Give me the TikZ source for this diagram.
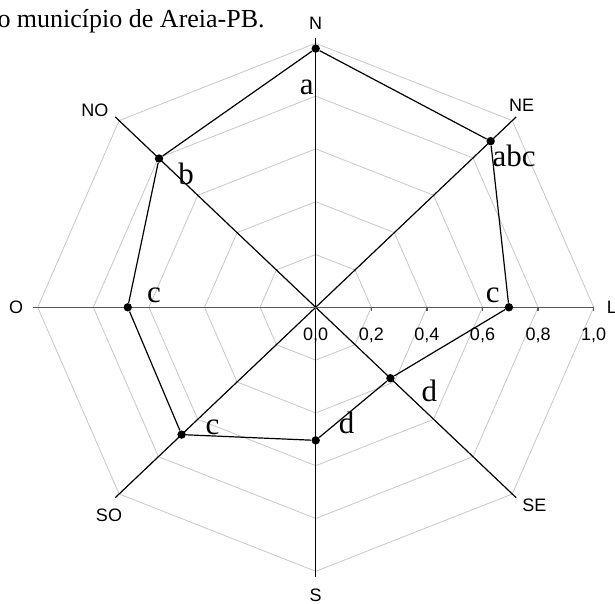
\documentclass[tikz,border=0pt]{standalone}
\usepackage{fontspec}
\setmainfont{Liberation Serif}
\setsansfont{Liberation Sans}

\begin{document}
\begin{tikzpicture}[x=4.885cm,y=4.639cm,
    gridline/.style={draw=black!22,line width=0.4pt},
    axis/.style={draw=black,line width=0.6pt},
    haxis/.style={draw=black!65,line width=0.7pt},
    dir/.style={inner sep=0pt,font=\fontsize{9}{10}\selectfont\sffamily},
    ticklbl/.style={anchor=base,inner sep=0pt,font=\fontsize{9}{10}\selectfont\sffamily},
    dot/.style={circle,fill=black,inner sep=0pt,minimum size=4.2pt},
    serie/.style={draw=black,line width=0.6pt},
    grp/.style={anchor=base,inner sep=0pt,font=\fontsize{15.5}{17}\selectfont}
  ]
    % Frame
    \useasboundingbox (-1.1356,-1.1201) rectangle (1.0766,1.1640);

    % Grid rings
    \foreach \r in {0.2,0.4,0.6,0.8,1.0}
      \draw[gridline] (0:\r) -- (45:\r) -- (90:\r) -- (135:\r) -- (180:\r) -- (225:\r) -- (270:\r) -- (315:\r) -- cycle;

    % Axes
    \coordinate (ctr) at (0,0);
    \foreach \a/\n in {90/N,45/NE,315/SE,270/S,225/SO,135/NO}
      \coordinate (e\n) at (\a:1.02);
    \coordinate (eO) at (180:1.018);
    \coordinate (eL) at (0:1);
    \foreach \n in {N,NE,SE,S,SO,NO}
      \draw[axis] (ctr) -- (e\n);
    \draw[haxis] (eO) -- (eL);

    % Ticks on the L axis
    \foreach \v/\a/\b in {0/0/0,0.2/0/2,0.4/0/4,0.6/0/6,0.8/0/8,1/1/0} {
      \draw[haxis] (\v,0) -- (\v,-0.015);
      \node[ticklbl] (t\a\b) at (\v,-0.124) {\a,\b};
    }

    % Direction labels
    \node[dir] (lN) at (0,1.076) {N};
    \node[dir] (lNE) at (0.741,0.766) {NE};
    \node[dir,anchor=west] (lL) at (1.046,0) {L};
    \node[dir] (lSE) at (0.787,-0.7515) {SE};
    \node[dir] (lS) at (0,-1.09) {S};
    \node[dir] (lSO) at (-0.7435,-0.789) {SO};
    \node[dir] (lO) at (-1.078,0) {O};
    \node[dir] (lNO) at (-0.794,0.745) {NO};

    % Data
    \foreach \a/\r/\n in {90/0.98/N,45/0.89/NE,0/0.695/L,315/0.38/SE,270/0.504/S,225/0.682/SO,180/0.676/O,135/0.797/NO}
      \node[dot] (p\n) at (\a:\r) {};
    \draw[serie] (pN) -- (pNE) -- (pL) -- (pSE) -- (pS) -- (pSO) -- (pO) -- (pNO) -- (pN);

    % Letters
    \node[grp] (gN) at (-0.032,0.807) {a};
    \node[grp] (gNE) at (0.714,0.5326) {abc};
    \node[grp] (gL) at (0.637,0.0174) {c};
    \node[grp] (gSE) at (0.4086,-0.355) {d};
    \node[grp] (gS) at (0.1115,-0.477) {d};
    \node[grp] (gSO) at (-0.371,-0.48) {c};
    \node[grp] (gO) at (-0.5817,0.0189) {c};
    \node[grp] (gNO) at (-0.4665,0.4633) {b};

    % Title
    \node[anchor=base east,inner sep=0pt,font=\fontsize{13}{15}\selectfont] (title) at (-0.182,1.061) {o município de Areia-PB.};
\end{tikzpicture}
\end{document}
